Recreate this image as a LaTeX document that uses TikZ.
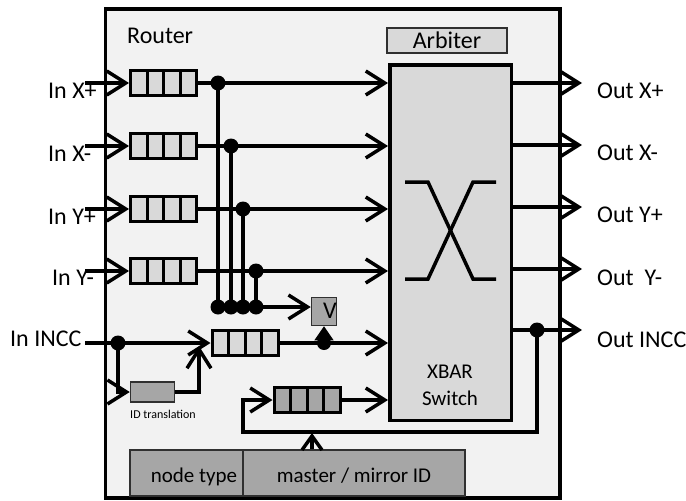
\documentclass[tikz,border=0pt]{standalone}
\usepackage{fontspec}
\setmainfont{Carlito}
\usetikzlibrary{arrows.meta,calc}
\definecolor{bgc}{HTML}{F2F2F2}
\definecolor{lgray}{HTML}{D9D9D9}
\definecolor{dgray}{HTML}{A6A6A6}
\definecolor{bdr}{HTML}{303030}
\tikzset{
  wire/.style={line width=3.5pt},
  arr/.style={wire,-{Straight Barb[length=19pt,width=24pt]}},
  arrs/.style={wire,-{Straight Barb[length=14pt,width=20pt]}},
  lab/.style={font=\fontsize{24}{28}\selectfont, inner sep=0pt},
  labm/.style={font=\fontsize{21}{25}\selectfont, inner sep=0pt},
  labs/.style={font=\fontsize{12}{14}\selectfont, inner sep=0pt},
  dot/.style={circle, fill=black, inner sep=0pt, minimum size=15pt},
  queue/.style={draw, line width=3pt, fill=#1, minimum width=66pt, minimum height=25pt, inner sep=0pt,
    path picture={\foreach \f in {0.25,0.5,0.75}{\draw[line width=3pt]
      ($(path picture bounding box.south west)!\f!(path picture bounding box.south east)$) --
      ($(path picture bounding box.north west)!\f!(path picture bounding box.north east)$);}}},
  queue/.default=lgray,
  gbox/.style={draw=bdr, line width=1.5pt, fill=dgray, inner sep=0pt}
}
\begin{document}
\begin{tikzpicture}[x=1pt,y=-1pt]
\useasboundingbox (0,0) rectangle (686,501);
% router frame
\node[draw, line width=3.5pt, fill=bgc, minimum width=454.5pt, minimum height=489pt, inner sep=0pt] (router) at (332.75,253.5) {};
\node[lab, anchor=base west] (rlab) at (127,43) {Router};
% arbiter and xbar
\node[draw=bdr, line width=2pt, fill=lgray, minimum width=120pt, minimum height=25pt, inner sep=0pt] (arb) at (447,40.5) {};
\node[lab, anchor=base] (arbt) at (447,48) {Arbiter};
\node[draw, line width=3.5pt, fill=lgray, minimum width=121.5pt, minimum height=355.5pt, inner sep=0pt] (xbar) at (450.5,242.5) {};
\draw[line width=3.5pt] (405,182) -- (428,182) -- (473,279) -- (496,279);
\draw[line width=3.5pt] (496,182) -- (473,182) -- (428,279) -- (405,279);
\node[labm, anchor=base] (xb1) at (450,378) {XBAR};
\node[labm, anchor=base] (xb2) at (450,405) {Switch};
% input queues
\node[queue] (qXp) at (163.5,83) {};
\node[queue] (qXm) at (163.5,146) {};
\node[queue] (qYp) at (163.5,209) {};
\node[queue] (qYm) at (163.5,271) {};
\node[queue] (qI) at (245,343) {};
\node[queue=dgray] (qM) at (307,400) {};
% input labels and arrows
\node[lab, anchor=base west] (lXp) at (48,98) {In X+};
\node[lab, anchor=base west] (lXm) at (48,161) {In X-};
\node[lab, anchor=base west] (lYp) at (48,224) {In Y+};
\node[lab, anchor=base west] (lYm) at (52,285) {In Y-};
\node[lab, anchor=base west] (lI) at (10,346) {In INCC};
\coordinate (iXp) at (85,83);
\coordinate (iXm) at (85,146);
\coordinate (iYp) at (85,209);
\coordinate (iYm) at (85,271);
\coordinate (iI) at (85,343);
\draw[arr] (iXp) -- (qXp.west);
\draw[arr] (iXm) -- (qXm.west);
\draw[arr] (iYp) -- (qYp.west);
\draw[arr] (iYm) -- (qYm.west);
% queue outputs to xbar
\draw[arr] (qXp.east) -- (qXp.east -| xbar.west);
\draw[arr] (qXm.east) -- (qXm.east -| xbar.west);
\draw[arr] (qYp.east) -- (qYp.east -| xbar.west);
\draw[arr] (qYm.east) -- (qYm.east -| xbar.west);
\draw[arr] (qI.east) -- (qI.east -| xbar.west);
\draw[arr] (qM.east) -- (qM.east -| xbar.west);
% V box and taps
\node[draw=bdr, line width=1.5pt, fill=dgray, minimum width=25pt, minimum height=28pt, inner sep=0pt] (V) at (324,311.5) {};
\node[lab, anchor=base] (Vt) at (330,318) {V};
\node[dot] (jXp) at (218,83) {};
\node[dot] (jXm) at (231,146) {};
\node[dot] (jYp) at (243,209) {};
\node[dot] (jYm) at (256,271) {};
\node[dot] (bXp) at (218,307) {};
\node[dot] (bXm) at (231,307) {};
\node[dot] (bYp) at (243,307) {};
\node[dot] (bYm) at (256,307) {};
\draw[wire] (jXp.center) -- (bXp.center);
\draw[wire] (jXm.center) -- (bXm.center);
\draw[wire] (jYp.center) -- (bYp.center);
\draw[wire] (jYm.center) -- (bYm.center);
\draw[arr] (bYm.center) -- (bYm.center -| V.west);
\node[dot, minimum size=14pt] (tV) at (324,343) {};
\draw[line width=1pt, -{Triangle[length=14pt,width=19pt]}] (tV.center) -- (V.south);
% INCC input path
\node[dot] (jI) at (118,343) {};
\draw[arr] (iI) -- (qI.west);
\node[gbox, minimum width=44pt, minimum height=20pt] (idt) at (152.5,392) {};
\node[labs, anchor=base] (idtl) at (163,418) {ID translation};
\draw[arr] (jI.center) |- (idt.west);
\coordinate (qIup) at (199,346);
\draw[arr] (idt.east) -| (qIup);
% outputs
\coordinate (oXp) at (582,83);
\coordinate (oXm) at (582,145);
\coordinate (oYp) at (582,207);
\coordinate (oYm) at (582,269);
\coordinate (oI) at (582,330);
\draw[arr] (xbar.east |- oXp) -- (oXp);
\draw[arr] (xbar.east |- oXm) -- (oXm);
\draw[arr] (xbar.east |- oYp) -- (oYp);
\draw[arr] (xbar.east |- oYm) -- (oYm);
\draw[arr] (xbar.east |- oI) -- (oI);
\node[lab, anchor=base west] (lOXp) at (597,98) {Out X+};
\node[lab, anchor=base west] (lOXm) at (597,160) {Out X-};
\node[lab, anchor=base west] (lOYp) at (597,222) {Out Y+};
\node[lab, anchor=base west] (lOYm) at (597,285) {Out\ \ Y-};
\node[lab, anchor=base west] (lOI) at (597,347) {Out INCC};
% loop back to mirror queue
\node[dot] (jO) at (537,330) {};
\coordinate (lp) at (243,432);
\draw[arr] (jO.center) |- (lp) |- (qM.west);
% bottom boxes
\node[gbox, minimum width=113pt, minimum height=46pt] (nt) at (186.5,473) {};
\node[gbox, minimum width=222pt, minimum height=46pt] (mm) at (354,473) {};
\node[labm, anchor=base] (ntl) at (194,482) {node type};
\node[labm, anchor=base] (mml) at (354,482) {master / mirror ID};
\coordinate (mmtip) at (312,433);
\draw[arrs] (mm.north -| mmtip) -- (mmtip);
\end{tikzpicture}
\end{document}
